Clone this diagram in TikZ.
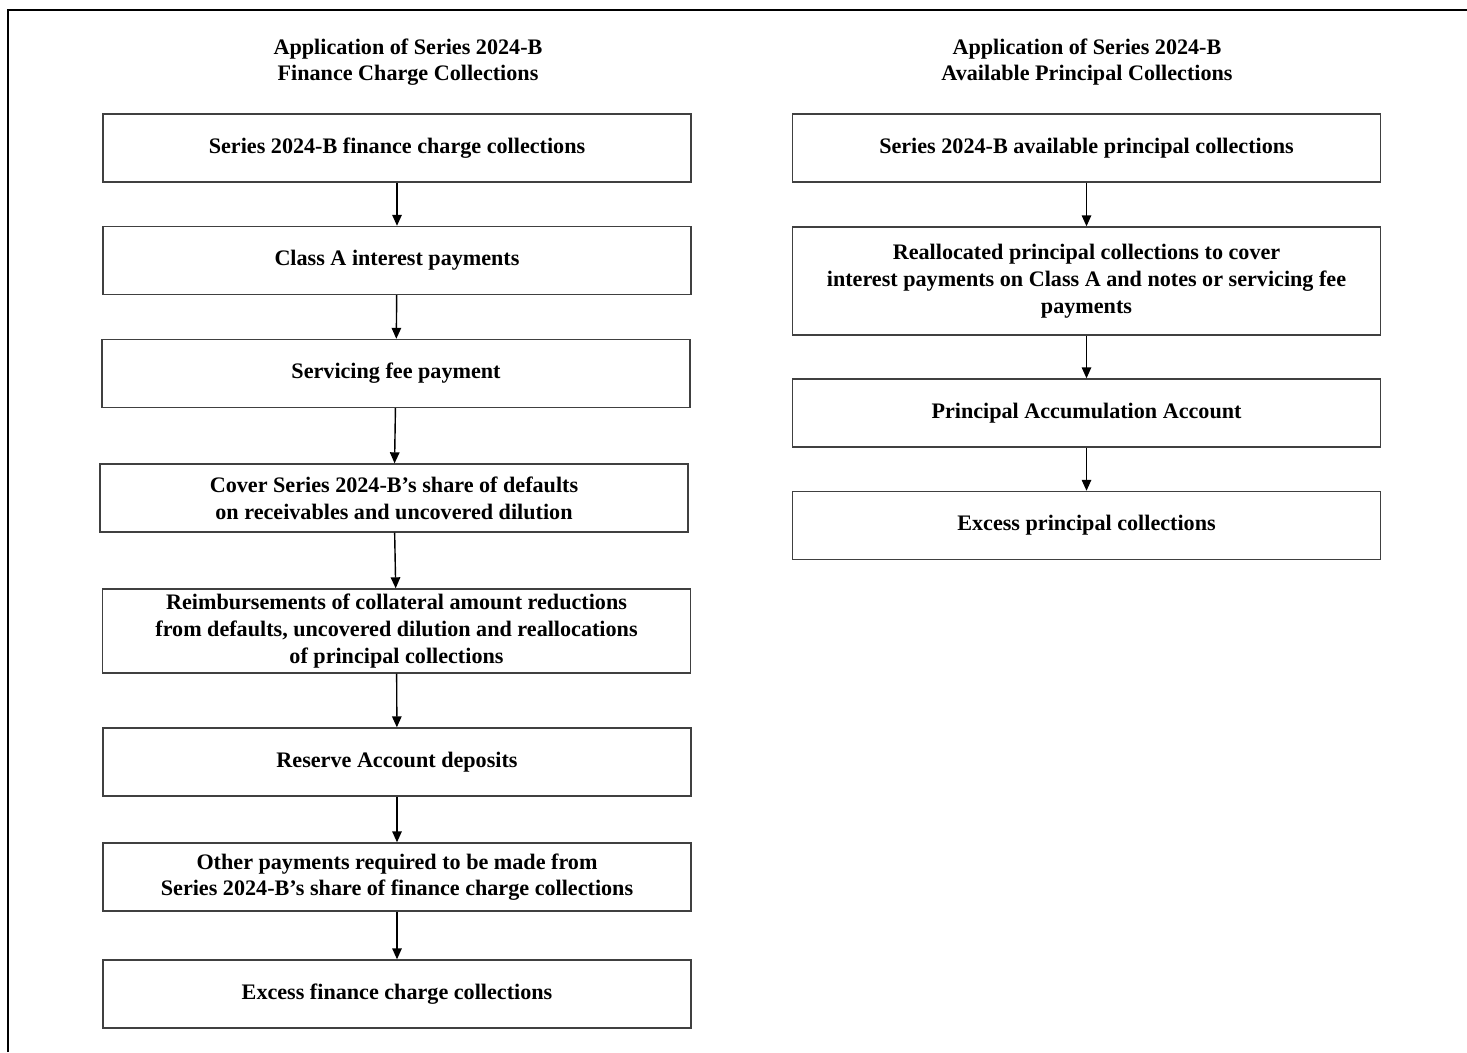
\documentclass[tikz,border=0pt]{standalone}
\usepackage{fontspec}
\setmainfont{Liberation Serif}
\usepackage{tikz}
\usetikzlibrary{arrows.meta,positioning}

\begin{document}
\begin{tikzpicture}[
  font=\fontsize{12.6}{15.2}\selectfont\bfseries,
  flowbox/.style ={draw=black!75, line width=0.8pt, align=center, inner sep=2pt,
                   minimum width=117.6mm, minimum height=13.6mm},
  head/.style    ={align=center, inner sep=0pt},
  frame/.style   ={line width=1.1pt},
  ar/.style      ={-{Triangle[length=2.2mm,width=1.9mm]}, line width=0.8pt},
]
\useasboundingbox (0,0) rectangle (29.34,-21.04);

% ---------------- outer frame ----------------------------------------------
\draw[frame] (0.16,-21.04) -- (0.16,-0.2) -- (29.34,-0.2);

% ---------------- finance charge collections -------------------------------
\node[head] (fchead) at (8.16,-1.24)
  {Application of Series 2024-B\\Finance Charge Collections};

\node[flowbox] (fc)    at (7.94, -2.96) {Series 2024-B finance charge collections};
\node[flowbox] (cla)   at (7.94, -5.21) {Class A interest payments};
\node[flowbox] (svc)   at (7.92, -7.47) {Servicing fee payment};
\node[flowbox] (dflt)  at (7.88, -9.96)
  {Cover Series 2024-B's share of defaults\\on receivables and uncovered dilution};
\node[flowbox, minimum height=16.8mm] (reimb) at (7.93,-12.62)
  {Reimbursements of collateral amount reductions\\from defaults, uncovered dilution and reallocations\\of principal collections};
\node[flowbox] (rsv)   at (7.94,-15.24) {Reserve Account deposits};
\node[flowbox] (oth)   at (7.94,-17.54)
  {Other payments required to be made from\\Series 2024-B's share of finance charge collections};
\node[flowbox] (xfc)   at (7.94,-19.88) {Excess finance charge collections};

\draw[ar] (fc)    -- (cla);
\draw[ar] (cla)   -- (svc);
\draw[ar] (svc)   -- (dflt);
\draw[ar] (dflt)  -- (reimb);
\draw[ar] (reimb) -- (rsv);
\draw[ar] (rsv)   -- (oth);
\draw[ar] (oth)   -- (xfc);

% ---------------- available principal collections --------------------------
\node[head] (pchead) at (21.74,-1.24)
  {Application of Series 2024-B\\Available Principal Collections};

\node[flowbox] (pc)    at (21.73, -2.96) {Series 2024-B available principal collections};
\node[flowbox, minimum height=21.6mm] (realloc) at (21.73,-5.62)
  {Reallocated principal collections to cover\\interest payments on Class A and notes or servicing fee\\payments};
\node[flowbox] (paa)   at (21.73, -8.26) {Principal Accumulation Account};
\node[flowbox] (xpc)   at (21.73,-10.51) {Excess principal collections};

\draw[ar] (pc)      -- (realloc);
\draw[ar] (realloc) -- (paa);
\draw[ar] (paa)     -- (xpc);

\end{tikzpicture}
\end{document}
